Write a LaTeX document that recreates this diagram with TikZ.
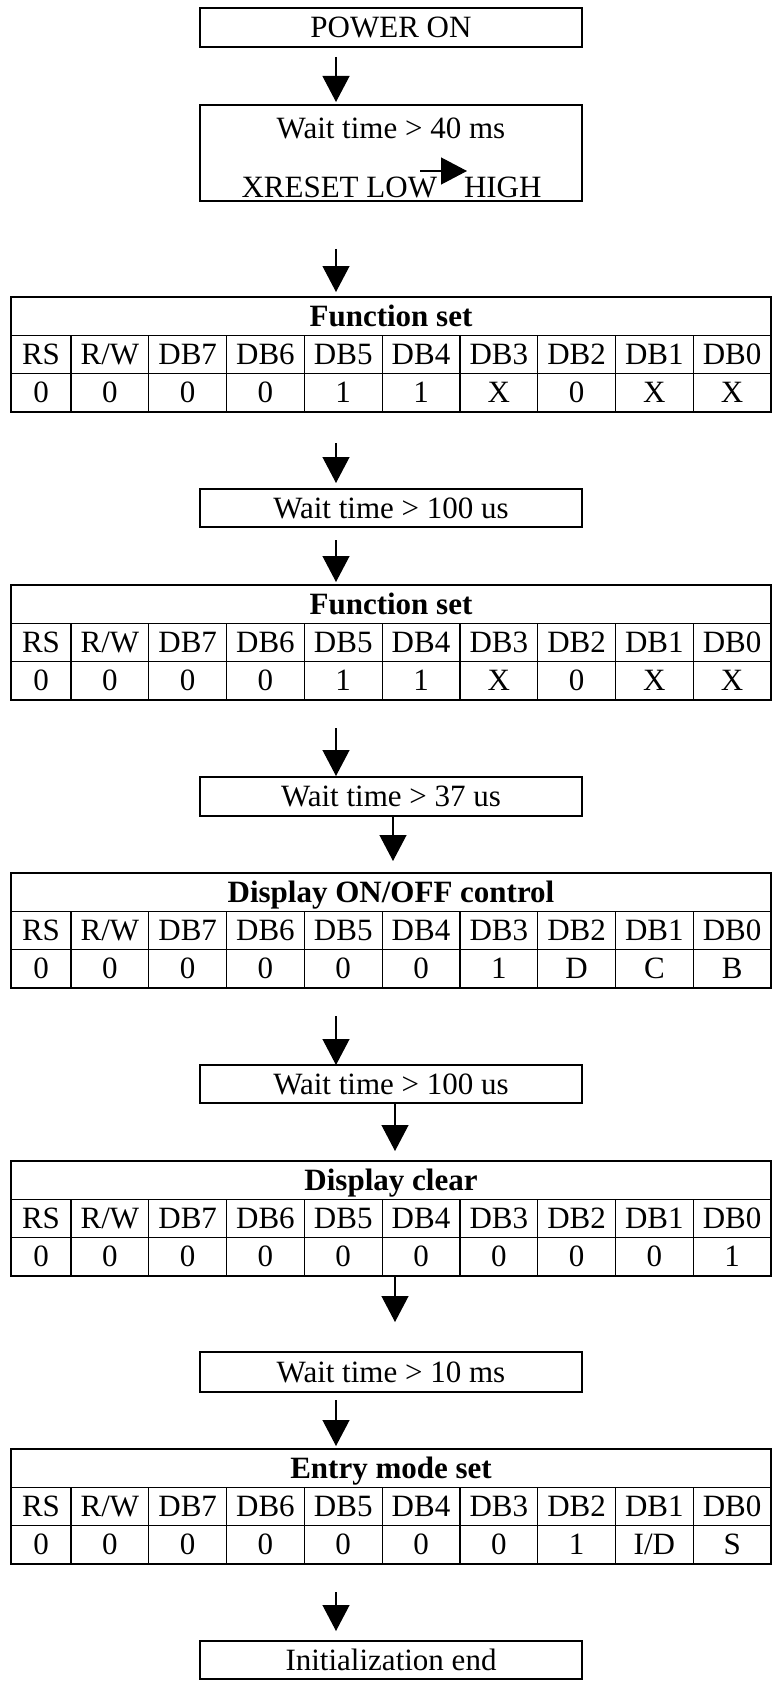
\documentclass[tikz,border=0pt]{standalone}
\usepackage{fontspec}
\setmainfont{Liberation Serif}
\usetikzlibrary{arrows.meta}

\newcommand{\lcdfont}{\fontsize{15.5}{18}\selectfont}

\tikzset{every picture/.style={line width=0.75pt}}
\tikzset{
  txt/.style={inner sep=0pt, outer sep=0pt, font=\lcdfont, text height=10.1pt, text depth=0pt},
  box/.style={txt, draw, line width=1pt, minimum width=191pt},
  cell/.style={txt, draw, line width=0.6pt, minimum height=19.17pt},
  flow/.style={-{Triangle[length=13pt,width=13.5pt]}, line width=0.6pt},
}

% one command word: title row, bit names, bit values
\newcommand{\regtable}[4]{%
  \draw (391,#2+19.17) node [cell, minimum width=380pt] (#1) {\textbf{#3}};
  \foreach \bit [count=\i] in {RS,R/W,DB7,DB6,DB5,DB4,DB3,DB2,DB1,DB0} {
    \pgfmathsetmacro{\cx}{\i==1 ? 41 : 71+77.78*(\i-1.5)}
    \pgfmathsetmacro{\cw}{\i==1 ? 30 : 38.89}
    \draw (\cx,#2+57.5) node [cell, minimum width=\cw pt] (#1-b\i) {\bit};
  }
  \foreach \val [count=\i] in {#4} {
    \pgfmathsetmacro{\cx}{\i==1 ? 41 : 71+77.78*(\i-1.5)}
    \pgfmathsetmacro{\cw}{\i==1 ? 30 : 38.89}
    \draw (\cx,#2+95.83) node [cell, minimum width=\cw pt] (#1-v\i) {\val};
  }
  \draw [line width=0.9pt] (#1.north west) rectangle (#1-v10.south east);
}

\begin{document}
\begin{tikzpicture}[x=0.5pt,y=0.5pt,yscale=-1,xscale=1]
\useasboundingbox (0,0) rectangle (774,1685);

% Boxes
\draw (391,27.5) node [box, minimum height=19.5pt] (pwr) {POWER ON};
\draw (391,153) node [box, minimum height=48pt] (w40) {};
\draw (391,128) node [txt] (w40t) {Wait time > 40 ms};
\draw (437,187) node [txt, anchor=east] (xlow) {XRESET LOW};
\draw (464,187) node [txt, anchor=west] (xhigh) {HIGH};
\draw (391,508) node [box, minimum height=19pt] (w100a) {Wait time > 100 us};
\draw (391,796.5) node [box, minimum height=19.5pt] (w37) {Wait time > 37 us};
\draw (391,1084) node [box, minimum height=19pt] (w100b) {Wait time > 100 us};
\draw (391,1372) node [box, minimum height=20pt] (w10) {Wait time > 10 ms};
\draw (391,1660) node [box, minimum height=19pt] (iend) {Initialization end};

% Tables
\regtable{fs1}{297}{Function set}{0,0,0,0,1,1,X,0,X,X}
\regtable{fs2}{585}{Function set}{0,0,0,0,1,1,X,0,X,X}
\regtable{dctl}{873}{Display ON/OFF control}{0,0,0,0,0,0,1,D,C,B}
\regtable{dclr}{1161}{Display clear}{0,0,0,0,0,0,0,0,0,1}
\regtable{ems}{1449}{Entry mode set}{0,0,0,0,0,0,0,1,I/D,S}

% Arrow starts
\coordinate (s1) at (336,57);
\coordinate (s2) at (336,249);
\coordinate (s3) at (336,443);
\coordinate (s4) at (336,540);
\coordinate (s5) at (336,728);
\coordinate (s6) at (393,816);
\coordinate (s7) at (336,1016);
\coordinate (s8) at (395,1103);
\coordinate (s9) at (395,1276);
\coordinate (s10) at (336,1400);
\coordinate (s11) at (336,1592);
\coordinate (lh1) at (420,171);
\coordinate (lh2) at (467,171);

% Arrows
\draw [flow, shorten >=1.5pt] (s1) -- (s1 |- w40.north);
\draw [flow, shorten >=2.5pt] (s2) -- (s2 |- fs1.north);
\draw [flow, shorten >=3pt] (s3) -- (s3 |- w100a.north);
\draw [flow, shorten >=1.5pt] (s4) -- (s4 |- fs2.north);
\draw [flow, shorten >=0.5pt] (s5) -- (s5 |- w37.north);
\draw [flow, shorten >=6pt] (s6) -- (s6 |- dctl.north);
\draw [flow] (s7) -- (s7 |- w100b.north);
\draw [flow, shorten >=5pt] (s8) -- (s8 |- dclr.north);
\draw [flow, shorten >=15pt] (s9) -- (s9 |- w10.north);
\draw [flow, shorten >=1.5pt] (s10) -- (s10 |- ems.north);
\draw [flow, shorten >=5pt] (s11) -- (s11 |- iend.north);
\draw [flow] (lh1) -- (lh2);

\end{tikzpicture}
\end{document}
